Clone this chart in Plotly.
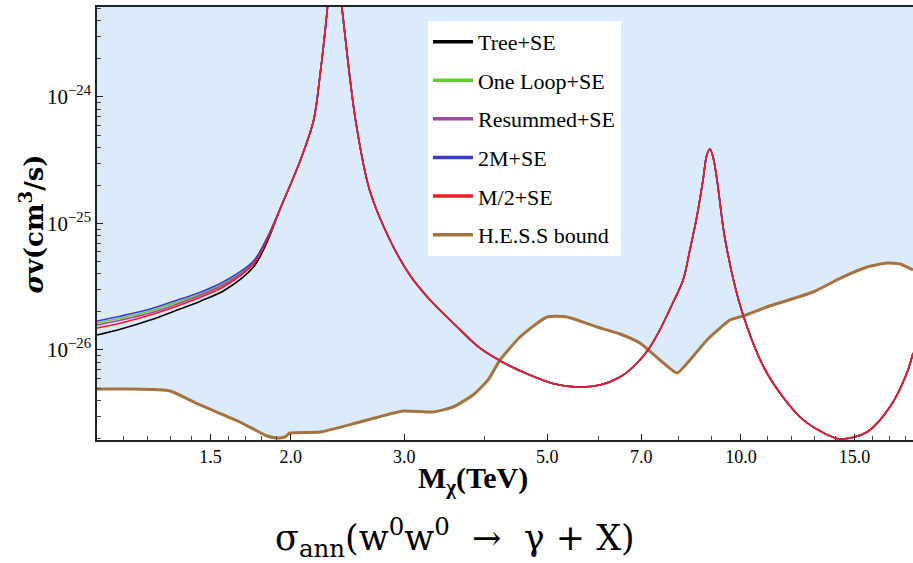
import plotly.graph_objects as go

# ---------------- data ----------------
# low-mass part, where the five predictions separate (TeV, cm^3/s)
m_low = [1.00, 1.09, 1.21, 1.32, 1.45, 1.58, 1.75, 1.84]
tree_low = [1.313e-26, 1.464e-26, 1.724e-26, 2.031e-26, 2.437e-26, 2.977e-26, 4.526e-26, 7.265e-26]
oneloop_low = [1.633e-26, 1.788e-26, 2.031e-26, 2.350e-26, 2.768e-26, 3.382e-26, 4.958e-26, 7.672e-26]
resummed_low = [1.575e-26, 1.724e-26, 1.959e-26, 2.266e-26, 2.718e-26, 3.321e-26, 4.868e-26, 7.672e-26]
twoM_low = [1.694e-26, 1.855e-26, 2.106e-26, 2.437e-26, 2.871e-26, 3.508e-26, 5.049e-26, 7.813e-26]
halfM_low = [1.491e-26, 1.633e-26, 1.889e-26, 2.185e-26, 2.621e-26, 3.202e-26, 4.780e-26, 7.534e-26]

# common part, where the five predictions coincide
m_high = [1.93, 2.07, 2.17, 2.22, 2.28, 2.33, 2.40, 2.52, 2.65, 2.85, 3.06, 3.29, 3.60,
          3.93, 4.26, 4.70, 5.14, 5.57, 6.04, 6.49, 6.85, 7.17, 7.48, 7.81, 8.13, 8.33,
          8.55, 8.73, 8.85, 8.95, 9.05, 9.18, 9.45, 10.04, 10.97, 12.35, 13.27, 14.25,
          15.70, 17.03, 18.10, 18.50]
sv_high = [1.349e-25, 3.173e-25, 6.573e-25, 1.491e-24, 5.14e-24, 2.0e-23, 5.14e-24, 6.573e-25,
           1.838e-25, 7.398e-26, 3.912e-26, 2.482e-26, 1.575e-26, 1.036e-26, 8.028e-27,
           6.338e-27, 5.380e-27, 5.093e-27, 5.283e-27, 6.111e-27, 7.603e-27, 9.99e-27,
           1.437e-26, 2.266e-26, 3.572e-26, 6.166e-26, 1.166e-25, 2.204e-25, 3.475e-25,
           3.877e-25, 3.35e-25, 2.204e-25, 7.398e-26, 1.995e-26, 6.573e-27, 2.951e-27,
           2.287e-27, 1.977e-27, 2.245e-27, 3.538e-27, 6.573e-27, 9.459e-27]

# H.E.S.S. bound
m_hess = [1.00, 1.125, 1.298, 1.445, 1.667, 1.837, 1.903, 1.958, 1.994, 2.220, 2.561, 2.987,
          3.325, 3.571, 3.836, 4.047, 4.224, 4.538, 4.997, 5.368, 5.974, 6.489, 6.967, 7.483,
          7.955, 8.333, 8.856, 9.614, 10.07, 10.97, 12.94, 14.40, 15.70, 16.85, 17.66, 18.50]
sv_hess = [4.912e-27, 4.912e-27, 4.736e-27, 3.671e-27, 2.694e-27, 2.088e-27, 2.013e-27,
           2.050e-27, 2.204e-27, 2.245e-27, 2.694e-27, 3.291e-27, 3.232e-27, 3.538e-27,
           4.403e-27, 5.785e-27, 8.325e-27, 1.266e-26, 1.821e-26, 1.821e-26, 1.518e-26,
           1.337e-26, 1.135e-26, 8.325e-27, 6.573e-27, 8.325e-27, 1.198e-26, 1.724e-26,
           1.855e-26, 2.185e-26, 2.871e-26, 3.773e-26, 4.526e-26, 4.868e-26, 4.780e-26,
           4.284e-26]
sv_ceiling = 1e-22  # upper edge of the shaded (excluded) region

series = [
    ("Tree+SE", tree_low, "#000000"),
    ("One Loop+SE", oneloop_low, "#66cc33"),
    ("Resummed+SE", resummed_low, "#a347a3"),
    ("2M+SE", twoM_low, "#3a3acc"),
    ("M/2+SE", halfM_low, "#ee1c24"),
]
hess_name, hess_color = "H.E.S.S bound", "#a5733f"

x_ticks = [1.5, 2, 3, 5, 7, 10, 15]
x_ticktext = ["1.5", "2.0", "3.0", "5.0", "7.0", "10.0", "15.0"]
x_minor = [1.0, 1.1, 1.2, 1.3, 1.4, 1.6, 1.7, 1.8, 1.9, 4, 6, 8, 9, 11, 12, 13, 14, 16, 17, 18]
y_ticks = [1e-26, 1e-25, 1e-24]
y_ticktext = ["10<sup>\u221226</sup>", "10<sup>\u221225</sup>", "10<sup>\u221224</sup>"]
y_minor = [k * 10.0 ** e for e in (-27, -26, -25, -24) for k in range(2, 10)]

SERIF = "Liberation Serif"
TIMES = "Times New Roman"

fig = go.Figure()

# shaded region above the H.E.S.S. bound
fig.add_trace(go.Scatter(x=m_hess, y=sv_hess, mode="lines", line=dict(width=0, shape="spline", smoothing=0.5),
                         showlegend=False, hoverinfo="skip"))
fig.add_trace(go.Scatter(x=m_hess, y=[sv_ceiling] * len(m_hess), mode="lines",
                         line=dict(width=0), fill="tonexty",
                         fillcolor="rgb(220,235,251)", showlegend=False, hoverinfo="skip"))

fig.add_trace(go.Scatter(x=m_hess, y=sv_hess, mode="lines", showlegend=False,
                         line=dict(color=hess_color, width=3, shape="spline", smoothing=0.5)))

for name, low, col in series:
    fig.add_trace(go.Scatter(x=m_low + m_high, y=low + sv_high, mode="lines", showlegend=False,
                             line=dict(color=col, width=1.6, shape="spline", smoothing=0.9)))

# legend entries (thicker swatches, as in the reference legend)
for i, (name, col) in enumerate([(s[0], s[2]) for s in series] + [(hess_name, hess_color)]):
    fig.add_trace(go.Scatter(x=[None], y=[None], mode="lines", name=name,
                             line=dict(color=col, width=3.5), legendgroup="g%d" % i))

fig.update_layout(
    width=913, height=563, autosize=False,
    margin=dict(l=97, r=0, t=7, b=123),
    paper_bgcolor="white", plot_bgcolor="white",
    font=dict(family=SERIF, color="black"),
    legend=dict(x=0.4056, y=0.968, xanchor="left", yanchor="top", itemwidth=40,
                bgcolor="white", borderwidth=0, font=dict(family=SERIF, size=22),
                traceorder="grouped", tracegroupgap=7),
    xaxis=dict(type="log", range=[0, 1.2671], showgrid=False, zeroline=False,
               showline=True, linecolor="#222", linewidth=1.5, mirror=True,
               tickmode="array", tickvals=x_ticks, ticktext=x_ticktext,
               ticks="inside", ticklen=6, tickcolor="#222",
               tickfont=dict(family=TIMES, size=18),
               minor=dict(tickvals=x_minor, ticks="inside", ticklen=4, tickcolor="#444")),
    yaxis=dict(type="log", range=[-26.712, -23.289], showgrid=False, zeroline=False,
               showline=True, linecolor="#222", linewidth=1.5,
               tickmode="array", tickvals=y_ticks, ticktext=y_ticktext,
               ticks="inside", ticklen=6, tickcolor="#222",
               tickfont=dict(family="serif", size=21),
               minor=dict(tickvals=y_minor, ticks="inside", ticklen=4, tickcolor="#444")),
)

fig.add_annotation(text="<b><i>σ</i>v(cm<sup>3</sup>/s)</b>", xref="paper", yref="paper",
                   x=-0.0797, y=0.5, textangle=-90, showarrow=False,
                   font=dict(family="DejaVu Serif", size=26), xanchor="center", yanchor="middle")
fig.add_annotation(text="<b>M<sub>χ</sub>(TeV)</b>", xref="paper", yref="paper",
                   x=0.4608, y=-0.0924, showarrow=False,
                   font=dict(family=SERIF, size=30), xanchor="center", yanchor="middle")
fig.add_annotation(text="σ<sub>ann</sub>(w<sup>0</sup>w<sup>0</sup>  →  γ + X)",
                   xref="paper", yref="paper", x=0.4387, y=-0.225, showarrow=False,
                   font=dict(family="DejaVu Serif", size=35), xanchor="center",
                   yanchor="middle")

fig.write_html("out.html")
